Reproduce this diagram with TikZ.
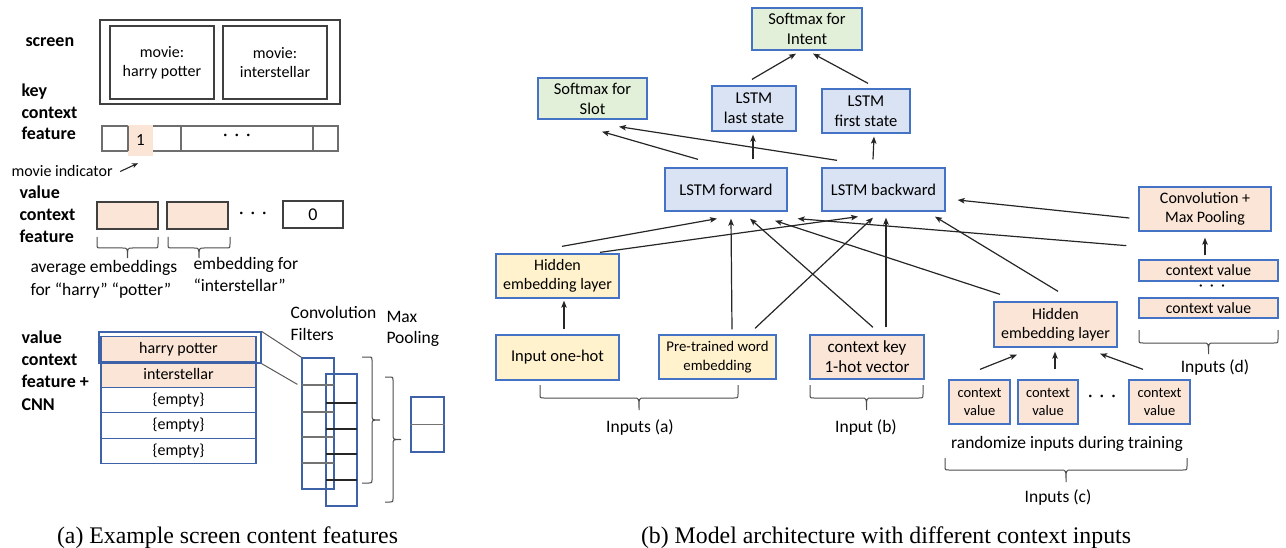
\documentclass[tikz,border=0pt]{standalone}
\usepackage{fontspec}
\setmainfont{Carlito}
\newfontfamily\capfont{Liberation Serif}
\usetikzlibrary{arrows.meta,calc}

\definecolor{edgeblue}{RGB}{68,114,196}
\definecolor{cnnblue}{RGB}{62,98,168}
\definecolor{lstmfill}{RGB}{218,227,243}
\definecolor{softfill}{RGB}{226,240,217}
\definecolor{inputfill}{RGB}{255,242,204}
\definecolor{ctxfill}{RGB}{251,229,214}
\definecolor{framegray}{RGB}{64,64,64}
\definecolor{cellgray}{RGB}{110,110,110}

\newcommand\fsz[2]{\fontsize{#1}{#2}\selectfont}
\newcommand\spreaddots{·\hspace{7pt}·\hspace{7pt}·}

% horizontal brace opening upwards: x1 x2 y-of-ends y-of-bar y-of-tip
\newcommand\hbrc[5]{%
  \pgfmathsetmacro\brcmid{(#1+#2)/2}%
  \draw[brc] (#1,#3) -- (#1,#4-4) .. controls (#1,#4) .. (#1+4,#4)
    -- (\brcmid-5,#4) .. controls (\brcmid,#4) .. (\brcmid,#5)
    .. controls (\brcmid,#4) .. (\brcmid+5,#4)
    -- (#2-4,#4) .. controls (#2,#4) .. (#2,#4-4) -- (#2,#3);}
% vertical brace opening leftwards: y1 y2 x-of-ends x-of-bar x-of-tip
\newcommand\vbrc[5]{%
  \pgfmathsetmacro\brcmid{(#1+#2)/2}%
  \draw[brc] (#3,#1) -- (#4-3,#1) .. controls (#4,#1) .. (#4,#1+3)
    -- (#4,\brcmid-5) .. controls (#4,\brcmid) .. (#5,\brcmid)
    .. controls (#4,\brcmid) .. (#4,\brcmid+5)
    -- (#4,#2-3) .. controls (#4,#2) .. (#4-3,#2) -- (#3,#2);}

\tikzset{
  box/.style={draw=edgeblue, line width=1.3pt, align=center, inner sep=0pt,
    font=\fsz{16.5}{20}},
  lstm/.style={box, fill=lstmfill},
  soft/.style={box, fill=softfill},
  inbox/.style={box, fill=inputfill},
  ctxbox/.style={box, fill=ctxfill},
  arr/.style={draw=black!85, line width=1.2pt,
    -{Stealth[length=7pt,width=5.5pt,inset=1.5pt]}},
  brc/.style={draw=black!70, line width=1pt},
  lab/.style={font=\fsz{17.5}{21}},
  % multi-line labels are anchored at the baseline of their last line
  hdr/.style={font=\fsz{18}{22}\bfseries, align=left, anchor=base west},
  txt/.style={font=\fsz{17.5}{22.5}, align=left, anchor=base west},
  scr/.style={draw=framegray, line width=1.5pt, align=center, inner sep=0pt,
    font=\fsz{16}{19}},
  valbox/.style={draw=framegray, line width=1.3pt, inner sep=0pt},
  cnnrow/.style={draw=cnnblue, line width=1.2pt, inner sep=0pt,
    minimum width=155, minimum height=25.5, font=\fsz{16}{19}},
  filt/.style={draw=cnnblue, line width=1.2pt, inner sep=0pt},
  captext/.style={font=\capfont\fsz{23.8}{28}, anchor=base},
}

\begin{document}
\begin{tikzpicture}[x=1pt, y=-1pt]
\useasboundingbox (0,0) rectangle (1286,548);

%% ---------------- screen content features ----------------
\node[hdr] (lscreen) at (22,47) {screen};
\node[scr, minimum width=240, minimum height=84] (screen) at (220,62) {};
\node[scr, minimum width=104, minimum height=73] (hp) at (162,62.5) {movie:\\harry potter};
\node[scr, minimum width=104, minimum height=73] (inter) at (275,62.5) {movie:\\interstellar};

% key context feature: one-hot row
\node[hdr, font=\fsz{18}{21.5}\bfseries] (lkey) at (18,140) {key\\context\\feature};
\node[draw=cellgray, line width=1.2pt, inner sep=0pt, minimum width=236,
  minimum height=25] (keyrow) at (220,138.5) {};
\node[fill=ctxfill, inner sep=0pt, minimum width=25, minimum height=31,
  font=\fsz{17}{20}] (onecell) at (140.5,140.5) {1};
\draw[draw=cellgray, line width=1.2pt] (128,126) -- (128,151)
  (181,126) -- (181,151) (313,126) -- (313,151);
\node[font=\fsz{18}{20}] (kdots) at (237,137) {\spreaddots};

\node[font=\fsz{16}{19}, anchor=base west] (mind) at (8,177) {movie indicator};
\draw[draw=black!85, line width=1.1pt, -{Stealth[length=6pt,width=5pt]}]
  ($(mind.east)+(4,0)$) -- ($(onecell.south)+(-2.5,7)$);

% value context feature
\node[hdr] (lval) at (16,243) {value\\context\\feature};
\node[valbox, fill=ctxfill, minimum width=61, minimum height=27] (v1) at (127.5,215.5) {};
\node[valbox, fill=ctxfill, minimum width=61, minimum height=27] (v2) at (197.5,215.5) {};
\node[font=\fsz{18}{20}] (vdots) at (253,215) {\spreaddots};
\node[valbox, minimum width=60, minimum height=27, font=\fsz{18}{20}] (zero) at (313,214.5) {0};
\hbrc{97}{158}{237}{248}{258}
\hbrc{168}{230}{237}{248}{258}
\node[txt] (avg) at (27,295) {average embeddings\\for “harry” “potter”};
\node[txt] (emb) at (190,292) {embedding for\\“interstellar”};

% value context feature + CNN
\node[hdr, font=\fsz{18}{22.3}\bfseries] (lcnn) at (18,410) {value\\context\\feature +\\CNN};
\node[cnnrow, fill=ctxfill] (r1) at (178.5,349) {harry potter};
\node[cnnrow, fill=ctxfill] (r2) at (178.5,374.5) {interstellar};
\node[cnnrow] (r3) at (178.5,400) {\{empty\}};
\node[cnnrow] (r4) at (178.5,425.5) {\{empty\}};
\node[cnnrow] (r5) at (178.5,451) {\{empty\}};
\node[filt, minimum width=162, minimum height=31] (hl) at (180,347.5) {};

\node[filt, minimum width=32, minimum height=131] (f1) at (318,423.5) {};
\node[filt, minimum width=31, minimum height=132] (f2) at (341.5,440) {};
\foreach \yy in {385,412,437,463} \draw[draw=black!55, line width=1.1pt] (302,\yy) -- (334,\yy);
\foreach \yy in {403,429,454,480} \draw[draw=black!85, line width=1.1pt] (326,\yy) -- (357,\yy);
\draw[draw=black!65, line width=1pt] (hl.north east) -- (f1.north west);
\draw[draw=black!65, line width=1pt] (hl.south east) -- ($(f1.north west)+(-4,27)$);

\vbrc{357}{483}{362}{372}{380}
\vbrc{377}{502}{385}{393}{401}
\node[filt, minimum width=33, minimum height=55] (mp) at (427.5,424.5) {};
\draw[draw=black!55, line width=1.1pt] (mp.west) -- (mp.east);

\node[txt, font=\fsz{17.5}{21}] (lconv) at (287,340) {Convolution\\Filters};
\node[txt, font=\fsz{17.5}{21}] (lmax) at (383,344) {Max\\Pooling};

\node[captext] (capa) at (227.5,543) {(a) Example screen content features};

%% ---------------- model architecture ----------------
\node[soft, minimum width=110, minimum height=42] (intent) at (807,29) {Softmax for\\Intent};
\node[soft, minimum width=109, minimum height=41] (slot) at (592.5,98.5) {Softmax for\\Slot};
\node[lstm, minimum width=84, minimum height=45] (last) at (754,108.5) {LSTM\\last state};
\node[lstm, minimum width=88, minimum height=44] (first) at (866,111) {LSTM\\first state};
\node[lstm, minimum width=122, minimum height=43] (fwd) at (726,189.5) {LSTM forward};
\node[lstm, minimum width=123, minimum height=43] (bwd) at (883.5,189.5) {LSTM backward};

\node[inbox, minimum width=123, minimum height=44, font=\fsz{16}{19}] (hida) at (557.5,276) {Hidden\\embedding layer};
\node[inbox, minimum width=123, minimum height=45] (onehot) at (557.5,357.5) {Input one-hot};
\node[inbox, minimum width=117, minimum height=44, font=\fsz{14.8}{19}] (pre) at (717.5,357) {Pre-trained word\\embedding};
\node[ctxbox, minimum width=114, minimum height=44, font=\fsz{17}{20}] (ckey) at (867,357) {context key\\1-hot vector};

\node[ctxbox, minimum width=123, minimum height=45, font=\fsz{16}{19}] (hidc) at (1055.5,324.5) {Hidden\\embedding layer};
\node[ctxbox, minimum width=61, minimum height=44, font=\fsz{14.5}{17.5}] (cv1) at (979.5,402) {context\\value};
\node[ctxbox, minimum width=60, minimum height=44, font=\fsz{14.5}{17.5}] (cv2) at (1048,402) {context\\value};
\node[font=\fsz{18}{20}] (cdots) at (1102,398) {\spreaddots};
\node[ctxbox, minimum width=61, minimum height=44, font=\fsz{14.5}{17.5}] (cv3) at (1159.5,402) {context\\value};

\node[ctxbox, minimum width=132, minimum height=44, font=\fsz{16}{19.5}] (conv) at (1205,209) {Convolution +\\Max Pooling};
\node[ctxbox, minimum width=139, minimum height=21, font=\fsz{15.7}{19}] (cvd1) at (1208.5,270.5) {context value};
\node[font=\fsz{16}{18}] (ddots) at (1212,288) {\spreaddots};
\node[ctxbox, minimum width=139, minimum height=20, font=\fsz{15.7}{19}] (cvd2) at (1208.5,308) {context value};

% outputs
\draw[arr] ($(last.north)+(-2,-6)$) -- ($(intent.south)+(-11,3)$);
\draw[arr] ($(first.north)+(2,-5)$) -- ($(intent.south)+(6,3)$);
\draw[arr] ($(fwd.north)+(27,-8)$) -- ($(last.south)+(-1,3)$);
\draw[arr] ($(bwd.north)+(-10.5,-8)$) -- ($(first.south)+(8,3)$);
\draw[arr] ($(fwd.north)+(-28,-8)$) -- ($(slot.south)+(9.5,12)$);
\draw[arr] ($(bwd.north)+(-46.5,-7)$) -- ($(slot.south)+(26.5,7)$);

% inputs (a)
\draw[arr] ($(onehot.north)+(6.5,-5)$) -- ($(hida.south)+(6.5,2)$);
\draw[arr] ($(hida.north)+(4.5,-7)$) -- ($(fwd.south)+(-9,7)$);
\draw[arr] ($(hida.north)+(42.5,-1)$) -- ($(bwd.south)+(-25.5,5)$);
\draw[arr] ($(pre.north)+(14.5,-5)$) -- ($(fwd.south)+(5,7)$);
\draw[arr] ($(pre.north)+(37.5,-6)$) -- ($(bwd.south)+(-10.5,6)$);

% input (b)
\draw[arr] ($(ckey.north)+(6,-7)$) -- ($(fwd.south)+(24,7)$);
\draw[arr] ($(ckey.north)+(19,-7)$) -- ($(bwd.south)+(2.5,6)$);

% inputs (c)
\draw[arr] ($(cv1.north)+(0.5,-10)$) -- ($(hidc.south)+(-38.5,7)$);
\draw[arr] ($(cv2.north)+(7,-10)$) -- ($(hidc.south)+(-0.5,4)$);
\draw[arr] ($(cv3.north)+(-16.5,-10)$) -- ($(hidc.south)+(44.5,6)$);
\draw[arr] ($(hidc.north)+(-55.5,-7)$) -- ($(fwd.south)+(49,9)$);
\draw[arr] ($(hidc.north)+(2.5,-10)$) -- ($(bwd.south)+(51.5,5)$);

% inputs (d)
\draw[arr] ($(cvd1.north)+(-3.5,-4)$) -- ($(conv.south)+(0,6)$);
\draw[arr] ($(conv.west)+(-9,9)$) -- ($(bwd.east)+(12,10.5)$);
\draw[arr] ($(conv.south west)+(-12,14)$) -- ($(fwd.south east)+(10,7)$);

% input groups
\hbrc{540}{738}{385}{398}{410}
\hbrc{810}{923}{385}{398}{410}
\hbrc{945}{1187}{458}{470}{482}
\hbrc{1139}{1278}{330}{343}{354}
\node[lab] (ina) at (640,428) {Inputs (a)};
\node[lab] (inb) at (866,428) {Input (b)};
\node[lab] (rnd) at (1067,444) {randomize inputs during training};
\node[lab] (inc) at (1058,498) {Inputs (c)};
\node[lab] (ind) at (1215,368) {Inputs (d)};

\node[captext] (capb) at (886,543) {(b) Model architecture with different context inputs};
\end{tikzpicture}
\end{document}
